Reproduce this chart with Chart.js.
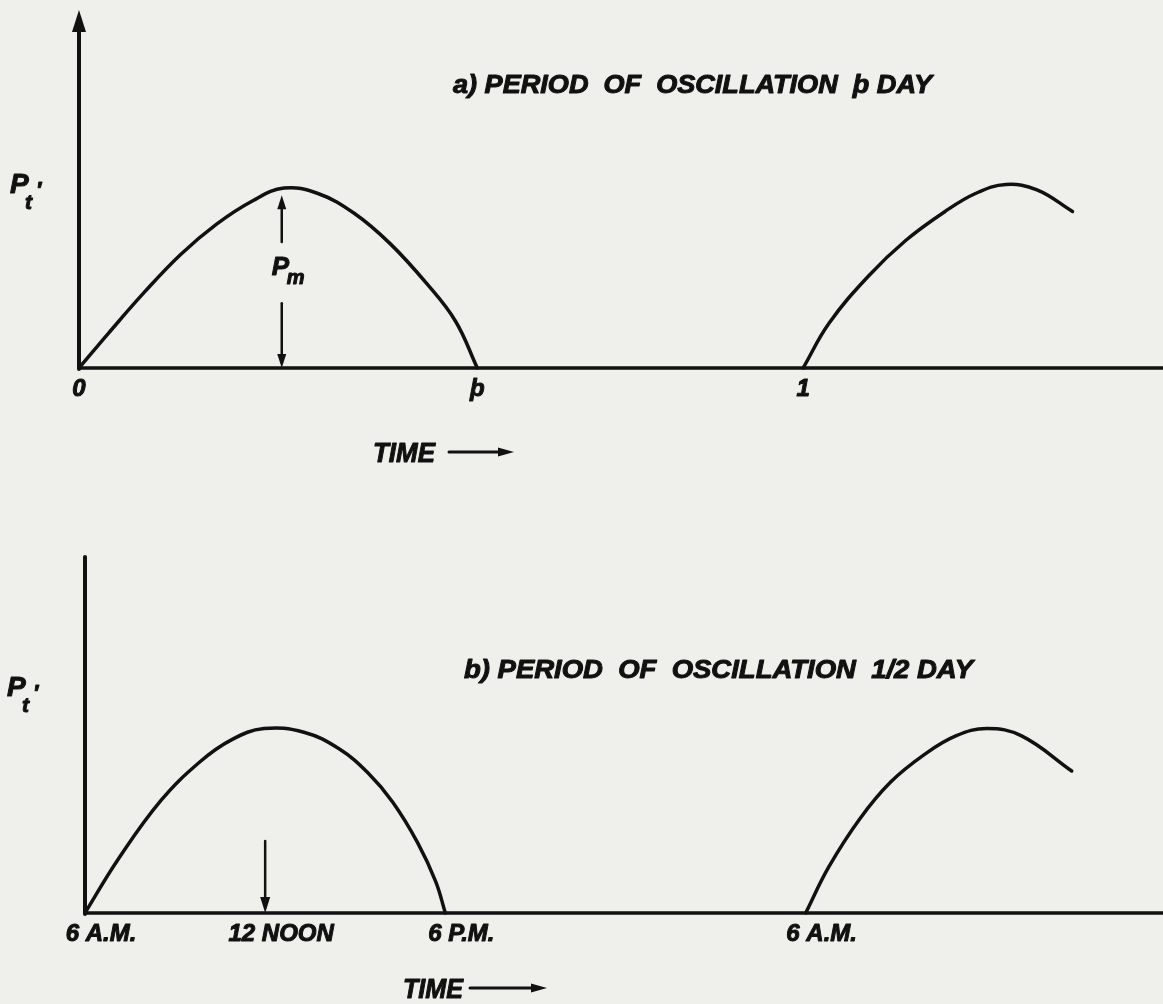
<!DOCTYPE html>
<html>
<head>
<meta charset="utf-8">
<script src="https://cdn.jsdelivr.net/npm/chart.js@4.4.0/dist/chart.umd.min.js"></script>
<style>
  html, body { margin: 0; padding: 0; background: #efefec; overflow: hidden; }
  .panel { position: absolute; left: 0; width: 1163px; }
  #painelA { top: 0; height: 500px; }
  #painelB { top: 500px; height: 504px; }
</style>
</head>
<body>
<div class="panel" id="painelA"><canvas id="graficoA"></canvas></div>
<div class="panel" id="painelB"><canvas id="graficoB"></canvas></div>
<script>
// a) periodo de oscilacao p dia -- tempo em dias, Pt' em unidades de Pm
const diaTicks = [0, 0.55, 1];
const diaTickLabels = ['0', 'þ', '1'];
const dia1X = [0, 0.04, 0.09, 0.14, 0.19, 0.24, 0.283, 0.33, 0.38, 0.43, 0.48, 0.52, 0.55];
const dia1Y = [0, 0.19, 0.42, 0.63, 0.80, 0.93, 1.0, 0.97, 0.86, 0.69, 0.47, 0.26, 0];
const dia2X = [1.0, 1.036, 1.09, 1.142, 1.196, 1.238, 1.28, 1.323, 1.372];
const dia2Y = [0, 0.25, 0.51, 0.71, 0.87, 0.97, 1.02, 0.99, 0.87];
const pmEm = 0.28;          // onde fica a seta de Pm
const diaMax = 1.497;
const pMax = 1.99;

// b) periodo de 1/2 dia -- tempo em horas depois das 6 A.M.
const horaTicks = [0, 6, 12, 24];
const horaTickLabels = ['6 A.M.', '12 NOON', '6 P.M.', '6 A.M.'];
const hora1X = [0, 1.1, 2.53, 3.83, 4.89, 5.96, 7.29, 8.46, 9.42, 10.25, 11.08, 11.68, 12];
const hora1Y = [0, 0.29, 0.61, 0.82, 0.94, 1.0, 0.98, 0.89, 0.76, 0.60, 0.38, 0.17, 0];
const hora2X = [24, 24.77, 25.8, 26.83, 27.96, 29.0, 30.03, 31.19, 32.86];
const hora2Y = [0, 0.25, 0.51, 0.71, 0.86, 0.96, 1.0, 0.96, 0.77];
const meioDia = 6;          // seta do meio-dia
const meioDiaTopo = 0.39;
const horaMax = 35.9;
const pMaxB = 1.93;

const TINTA = '#111111';
const FONTE = '"Liberation Sans", Arial, sans-serif';

const pontos = (xs, ys) => xs.map((x, i) => ({x: x, y: ys[i]}));

function texto(ctx, s, x, y, tam, align, largura) {
    ctx.font = `italic bold ${tam}px ${FONTE}`;
    ctx.textAlign = align;
    ctx.textBaseline = 'alphabetic';
    ctx.lineWidth = 1;
    ctx.lineJoin = 'round';
    ctx.save();
    ctx.translate(x, y);
    if (largura) {
        const w = ctx.measureText(s).width;
        ctx.scale(largura / w, 1);
    }
    ctx.fillText(s, 0, 0);
    ctx.strokeText(s, 0, 0);   // letra mais grossa, como o letreiro original
    ctx.restore();
}

function ponta(ctx, x, y, dir, comp, larg) {
    // dir: -1 aponta para cima, 1 para baixo, 0 para a direita
    ctx.beginPath();
    if (dir === 0) {
        ctx.moveTo(x, y);
        ctx.lineTo(x - comp, y - larg / 2);
        ctx.lineTo(x - comp, y + larg / 2);
    } else {
        ctx.moveTo(x, y);
        ctx.lineTo(x - larg / 2, y - dir * comp);
        ctx.lineTo(x + larg / 2, y - dir * comp);
    }
    ctx.closePath();
    ctx.fill();
}

function linha(ctx, x1, y1, x2, y2, w) {
    ctx.lineWidth = w;
    ctx.beginPath();
    ctx.moveTo(x1, y1);
    ctx.lineTo(x2, y2);
    ctx.stroke();
}

// desenha eixos, rotulos e setas por cima do grafico
function pluginEsboco(cfg) {
    return {
        id: 'esboco',
        afterDatasetsDraw(chart) {
            const ctx = chart.ctx;
            const sx = chart.scales.x, sy = chart.scales.y;
            const x0 = sx.getPixelForValue(0), y0 = sy.getPixelForValue(0);
            const yTop = sy.getPixelForValue(sy.max);
            ctx.save();
            ctx.strokeStyle = TINTA;
            ctx.fillStyle = TINTA;
            ctx.lineCap = 'round';

            // eixos
            linha(ctx, x0, cfg.setaY ? yTop + 18 : yTop, x0, y0 + 1, 4);
            linha(ctx, x0, y0, sx.getPixelForValue(sx.max) + 4, y0, 3.5);
            if (cfg.setaY) ponta(ctx, x0, yTop, -1, 22, 14);

            // rotulos do eixo x
            cfg.ticks.forEach((v, i) => {
                texto(ctx, cfg.tickLabels[i], sx.getPixelForValue(v) + cfg.tickDx, y0 + 28, 24, 'center');
            });

            // Pt'
            const [px, py] = cfg.rotuloY;
            texto(ctx, 'P', px, py, 28, 'left');
            texto(ctx, 't', px + 15, py + 16, 21, 'left');
            texto(ctx, '\u2032', px + 26, py + 4, 22, 'left');

            // titulo
            const [tx, ty, tw] = cfg.titulo;
            texto(ctx, cfg.tituloTexto, tx, ty, 25, 'left', tw);

            // TIME ->
            const [mx, my, mw, ax1, ax2] = cfg.tempo;
            texto(ctx, 'TIME', mx, my + 10, 27, 'left', mw);
            linha(ctx, ax1, my, ax2 - 12, my, 3);
            ponta(ctx, ax2, my, 0, 16, 9);

            // setas internas
            if (cfg.pm !== undefined) {
                const ax = sx.getPixelForValue(cfg.pm);
                const yPico = sy.getPixelForValue(0.96);
                const ySup = sy.getPixelForValue(0.70);
                const yInf = sy.getPixelForValue(0.36);
                linha(ctx, ax, ySup, ax, yPico + 10, 2.5);
                ponta(ctx, ax, yPico, -1, 14, 9);
                linha(ctx, ax, yInf, ax, y0 - 10, 2.5);
                ponta(ctx, ax, y0, 1, 14, 9);
                const yl = sy.getPixelForValue(0.54);
                texto(ctx, 'P', ax - 10, yl + 4, 26, 'left');
                texto(ctx, 'm', ax + 5, yl + 13, 20, 'left');
            }
            if (cfg.seta !== undefined) {
                const ax = sx.getPixelForValue(cfg.seta);
                linha(ctx, ax, sy.getPixelForValue(cfg.setaTopo), ax, y0 - 12, 2.5);
                ponta(ctx, ax, y0, 1, 16, 10);
            }
            ctx.restore();
        }
    };
}

function opcoes(xMax, yMax, pad) {
    return {
        responsive: true,
        maintainAspectRatio: false,
        animation: false,
        layout: {padding: pad},
        plugins: {legend: {display: false}, tooltip: {enabled: false}},
        elements: {point: {radius: 0}},
        scales: {
            x: {type: 'linear', min: 0, max: xMax, display: false},
            y: {type: 'linear', min: 0, max: yMax, display: false}
        }
    };
}

function serie(dados) {
    return {
        data: dados,
        borderColor: TINTA,
        borderWidth: 3.5,
        tension: 0.4,
        fill: false,
        clip: false,
        borderCapStyle: 'round',
        borderJoinStyle: 'round'
    };
}

const graficoA = new Chart(document.getElementById('graficoA').getContext('2d'), {
    type: 'line',
    data: {datasets: [serie(pontos(dia1X, dia1Y)), serie(pontos(dia2X, dia2Y))]},
    options: opcoes(diaMax, pMax, {left: 79, top: 10, right: 0, bottom: 132}),
    plugins: [pluginEsboco({
        setaY: true,
        ticks: diaTicks,
        tickLabels: diaTickLabels,
        tickDx: 0,
        rotuloY: [10, 193],
        titulo: [453, 93, 479],
        tituloTexto: 'a) PERIOD  OF  OSCILLATION  þ DAY',
        tempo: [373, 452, 62, 449, 514],
        pm: pmEm
    })]
});

const graficoB = new Chart(document.getElementById('graficoB').getContext('2d'), {
    type: 'line',
    data: {datasets: [serie(pontos(hora1X, hora1Y)), serie(pontos(hora2X, hora2Y))]},
    options: opcoes(horaMax, pMaxB, {left: 85, top: 57, right: 0, bottom: 91}),
    plugins: [pluginEsboco({
        setaY: false,
        ticks: horaTicks,
        tickLabels: horaTickLabels,
        tickDx: 16,
        rotuloY: [7, 196],
        titulo: [464, 178, 509],
        tituloTexto: 'b) PERIOD  OF  OSCILLATION  1/2 DAY',
        tempo: [403, 488, 60, 470, 547],
        seta: meioDia,
        setaTopo: meioDiaTopo
    })]
});
</script>
</body>
</html>
